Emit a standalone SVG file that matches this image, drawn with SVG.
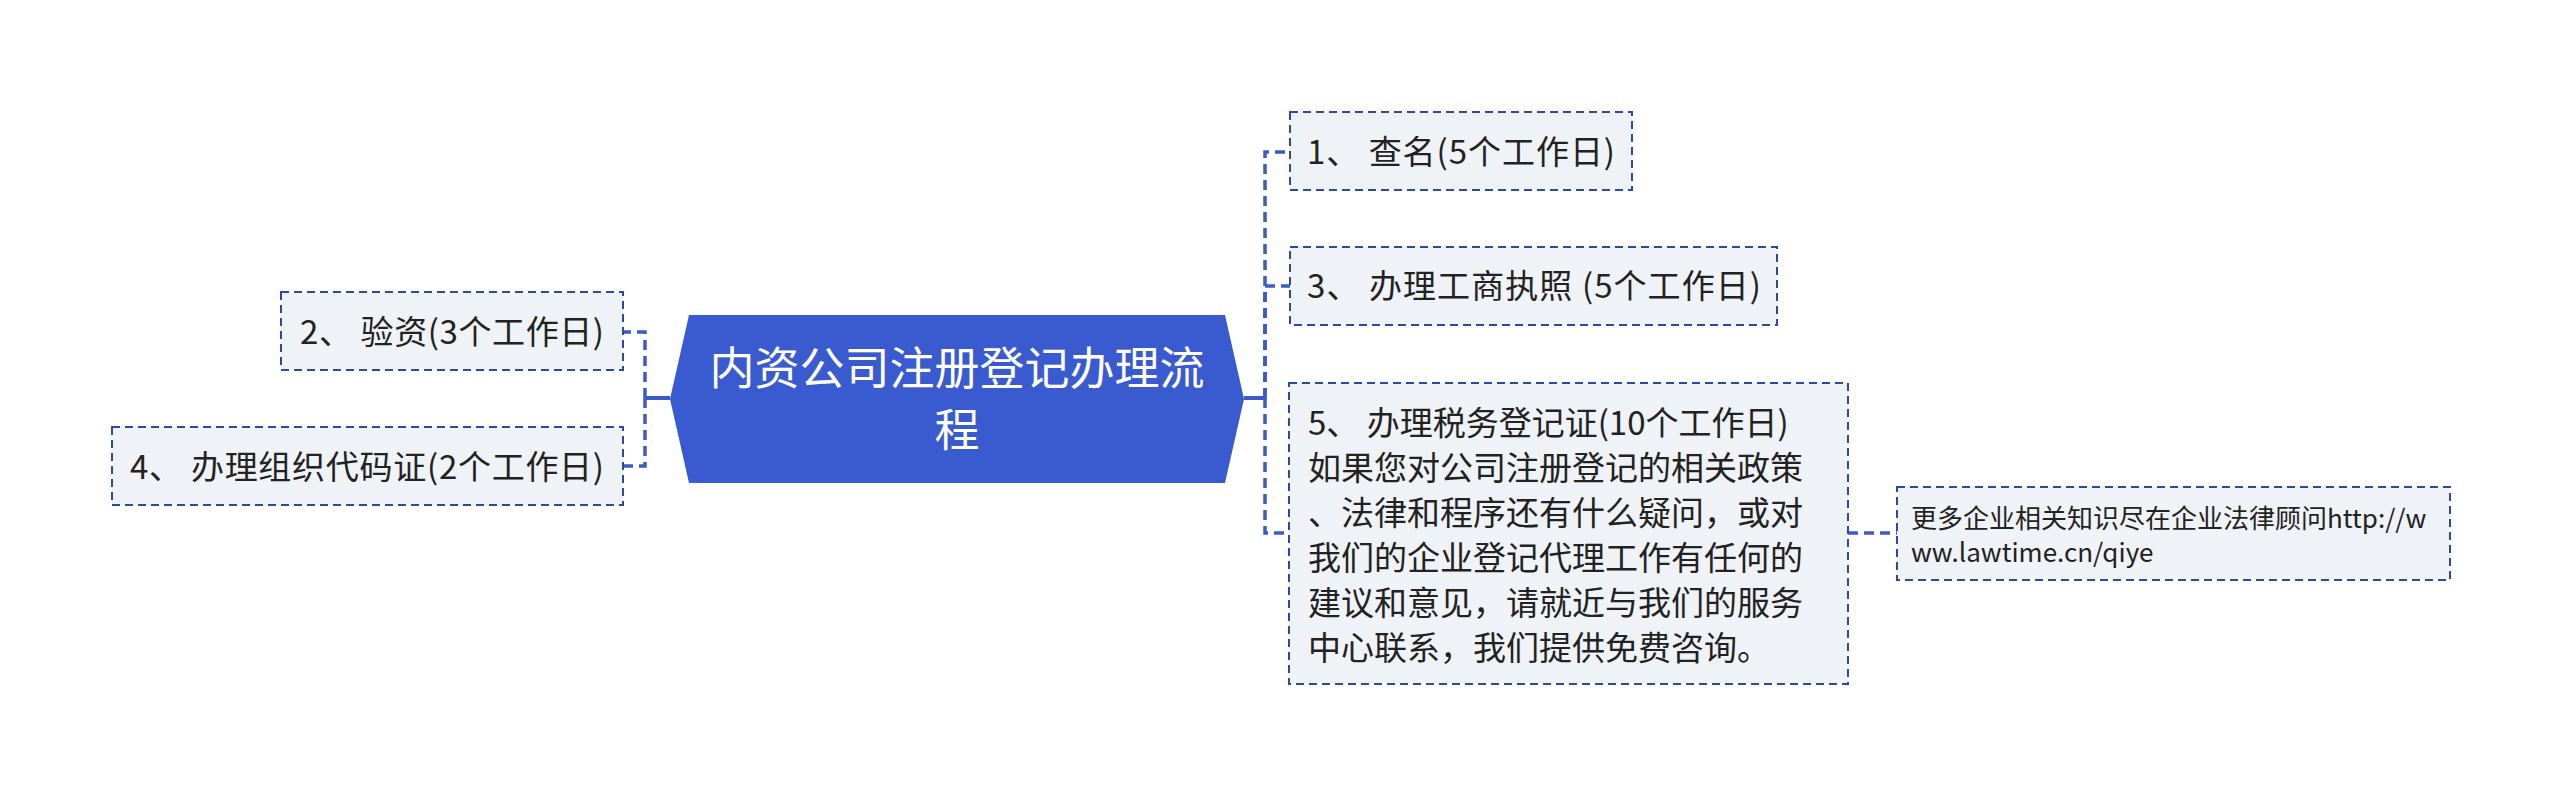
<svg xmlns="http://www.w3.org/2000/svg" width="2560" height="798" viewBox="0 0 2560 798">
<style>
.bg{fill:#ffffff}
.box{fill:#eff2f6;stroke:#2c4ba0;stroke-width:2;stroke-dasharray:8 5}
.conn{fill:none;stroke:#3b5bc8;stroke-width:3.5;stroke-dasharray:10 6}
.stub{fill:none;stroke:#3b5bc8;stroke-width:4}
.t{font-family:"Noto Sans CJK SC","Noto Sans",sans-serif;font-size:33px;fill:#222222}
.ts{font-family:"Noto Sans CJK SC","Noto Sans",sans-serif;font-size:26px;fill:#222222}
.tc{font-family:"Noto Sans CJK SC","Noto Sans",sans-serif;font-size:45px;fill:#ffffff;text-anchor:middle}
</style>
<rect class="bg" x="0" y="0" width="2560" height="798"/>
<g id="connectors">
<path class="stub" d="M670 398 H645"/>
<path class="conn" d="M645 398 V332 H623"/>
<path class="conn" d="M645 398 V466 H623"/>
<path class="stub" d="M1244 398 H1265"/>
<path class="conn" d="M1265 398 V152 H1290"/>
<path class="conn" d="M1265 398 V286 H1290"/>
<path class="conn" d="M1265 398 V533 H1289"/>
<path class="conn" d="M1848 533 H1897"/>
</g>
<g id="center">
<polygon points="670,399 689,315 1225,315 1244,399 1225,483 689,483" fill="#3a5bcf"/>
<text class="tc" x="957" y="385">内资公司注册登记办理流</text>
<text class="tc" x="957" y="447">程</text>
</g>
<g id="n1">
<rect class="box" x="1290" y="112" width="342" height="78"/>
<text class="t" x="1307" y="164" textLength="308" lengthAdjust="spacing">1、 查名(5个工作日)</text>
</g>
<g id="n2">
<rect class="box" x="281" y="292" width="342" height="78"/>
<text class="t" x="300" y="344" textLength="304" lengthAdjust="spacing">2、 验资(3个工作日)</text>
</g>
<g id="n3">
<rect class="box" x="1290" y="247" width="487" height="78"/>
<text class="t" x="1307" y="298" textLength="454" lengthAdjust="spacing">3、 办理工商执照 (5个工作日)</text>
</g>
<g id="n4">
<rect class="box" x="112" y="427" width="511" height="78"/>
<text class="t" x="130" y="479" textLength="474" lengthAdjust="spacing">4、 办理组织代码证(2个工作日)</text>
</g>
<g id="n5">
<rect class="box" x="1289" y="383" width="559" height="301"/>
<text class="t" x="1308" y="435">5、 办理税务登记证(10个工作日)</text>
<text class="t" x="1308" y="480">如果您对公司注册登记的相关政策</text>
<text class="t" x="1308" y="525">、法律和程序还有什么疑问，或对</text>
<text class="t" x="1308" y="570">我们的企业登记代理工作有任何的</text>
<text class="t" x="1308" y="615">建议和意见，请就近与我们的服务</text>
<text class="t" x="1308" y="660">中心联系，我们提供免费咨询。</text>
</g>
<g id="n6">
<rect class="box" x="1897" y="487" width="553" height="93"/>
<text class="ts" x="1911" y="528">更多企业相关知识尽在企业法律顾问http://w</text>
<text class="ts" x="1911" y="562">ww.lawtime.cn/qiye</text>
</g>
</svg>
